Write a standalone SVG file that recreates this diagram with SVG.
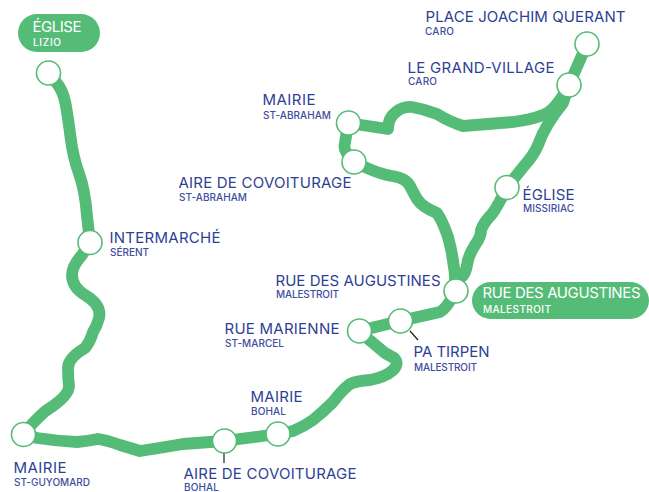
<svg xmlns="http://www.w3.org/2000/svg" width="649" height="492" viewBox="0 0 649 492">
<style>
.l{fill:none;stroke:#55bc77;stroke-width:11.800;stroke-linejoin:round;stroke-linecap:round}
.k{fill:none;stroke:#1d1d1b;stroke-width:1.200}
.n{fill:#fff;stroke:#55bc77;stroke-width:1.600}
.p{fill:#55bc77}
text{font-family:"Inter","Liberation Sans",sans-serif}
.m{font-size:15px;fill:#2e3f96}
.s{font-size:10px;fill:#3e4d9e;font-weight:500}
.w{fill:#fff}
</style>
<rect width="649" height="492" fill="#fff"/>
<g id="connectors">
<path class="l" d="M48 73L55.500 81.500Q63 90 65.500 103.500Q68 117 70.500 137Q73 157 79 173.500Q85 190 87 216L90 242L82 255Q72 266 72 275Q72 287 85 295Q102 305 99 318Q97 326 93 332Q90 342 85 348Q68 358 68 368Q68 378 69 386Q69 396 47 410Q40 415 23 434"/>
<path class="l" d="M23 434L37 438Q57 441 77 442Q88 441 98 439Q106 440 120 445L140 451Q160 448 183 444L224 441L278 434L293 431Q303 427 313 420Q323 412 333 402Q342 390 350 384Q356 381 370 380Q385 377 392 371Q400 364 394 358L385 353L367 338L359 331L400 321L440 312Q447 308 456 291"/>
<path class="l" d="M456 291L455 280Q465 278 467 265Q468 256 475 245Q481 237 481 230Q484 222 492 214Q498 206 507 187L524 166Q534 155 538 145Q545 125 563 103L569 85L587 44"/>
<path class="l" d="M456 291Q455 262 448 237Q443 222 437 213Q422 207 417 199Q413 192 410 186Q406 178 392 176Q380 174 367 168L354 162Q342 150 345 143L348 123L388 129Q388 118 396 112Q403 106 412 107Q424 109 437 114Q450 122 463 126L513 122Q530 120 543 115Q555 111 569 85"/>
<path class="k" d="M410 331L418 340M224 453V463"/>
</g>
<g id="pill-lizio"><rect class="p" x="18" y="14" width="82" height="38" rx="19"/><text class="m w" x="32.500" y="32" textLength="49">ÉGLISE</text><text class="s w" x="33" y="46" textLength="28">LIZIO</text></g>
<g id="pill-augustines"><rect class="p" x="472" y="282" width="177" height="37" rx="18.500"/><text class="m w" x="482.500" y="298" textLength="158">RUE DES AUGUSTINES</text><text class="s w" x="483" y="313" textLength="68">MALESTROIT</text></g>
<g id="eglise-lizio"><circle class="n" cx="48.500" cy="73" r="12"/></g>
<g id="intermarche"><circle class="n" cx="90" cy="242.500" r="12"/><text class="m" x="109.500" y="243" textLength="111">INTERMARCHÉ</text><text class="s" x="110" y="256" textLength="39">SÉRENT</text></g>
<g id="mairie-guyomard"><circle class="n" cx="23.500" cy="434.500" r="12"/><text class="m" x="13.500" y="473" textLength="53">MAIRIE</text><text class="s" x="14" y="486" textLength="76">ST-GUYOMARD</text></g>
<g id="aire-bohal"><circle class="n" cx="224.500" cy="441" r="12"/><text class="m" x="183.500" y="479" textLength="173">AIRE DE COVOITURAGE</text><text class="s" x="184" y="491" textLength="35">BOHAL</text></g>
<g id="mairie-bohal"><circle class="n" cx="278" cy="434" r="12"/><text class="m" x="250.500" y="402" textLength="52">MAIRIE</text><text class="s" x="251" y="415" textLength="35">BOHAL</text></g>
<g id="rue-marienne"><circle class="n" cx="359.500" cy="331" r="12"/><text class="m" x="224.500" y="334" textLength="115">RUE MARIENNE</text><text class="s" x="225" y="347" textLength="59">ST-MARCEL</text></g>
<g id="pa-tirpen"><circle class="n" cx="400.500" cy="321" r="12"/><text class="m" x="413.500" y="357" textLength="76">PA TIRPEN</text><text class="s" x="414" y="371" textLength="63">MALESTROIT</text></g>
<g id="rue-augustines"><circle class="n" cx="456" cy="291" r="12"/><text class="m" x="275.500" y="286" textLength="165">RUE DES AUGUSTINES</text><text class="s" x="276" y="298" textLength="63">MALESTROIT</text></g>
<g id="eglise-missiriac"><circle class="n" cx="507" cy="187.500" r="12"/><text class="m" x="522.500" y="200" textLength="52">ÉGLISE</text><text class="s" x="523" y="212" textLength="51">MISSIRIAC</text></g>
<g id="grand-village"><circle class="n" cx="569" cy="85" r="12"/><text class="m" x="407.500" y="73" textLength="147">LE GRAND-VILLAGE</text><text class="s" x="408" y="85" textLength="29">CARO</text></g>
<g id="place-joachim"><circle class="n" cx="587" cy="44" r="12"/><text class="m" x="425.500" y="22" textLength="200">PLACE JOACHIM QUERANT</text><text class="s" x="425" y="35" textLength="29">CARO</text></g>
<g id="mairie-abraham"><circle class="n" cx="348.500" cy="123" r="12"/><text class="m" x="262.500" y="105" textLength="53">MAIRIE</text><text class="s" x="263" y="118.500" textLength="68">ST-ABRAHAM</text></g>
<g id="aire-abraham"><circle class="n" cx="354" cy="162" r="12"/><text class="m" x="178.500" y="188" textLength="173">AIRE DE COVOITURAGE</text><text class="s" x="179" y="201" textLength="68">ST-ABRAHAM</text></g>
</svg>
